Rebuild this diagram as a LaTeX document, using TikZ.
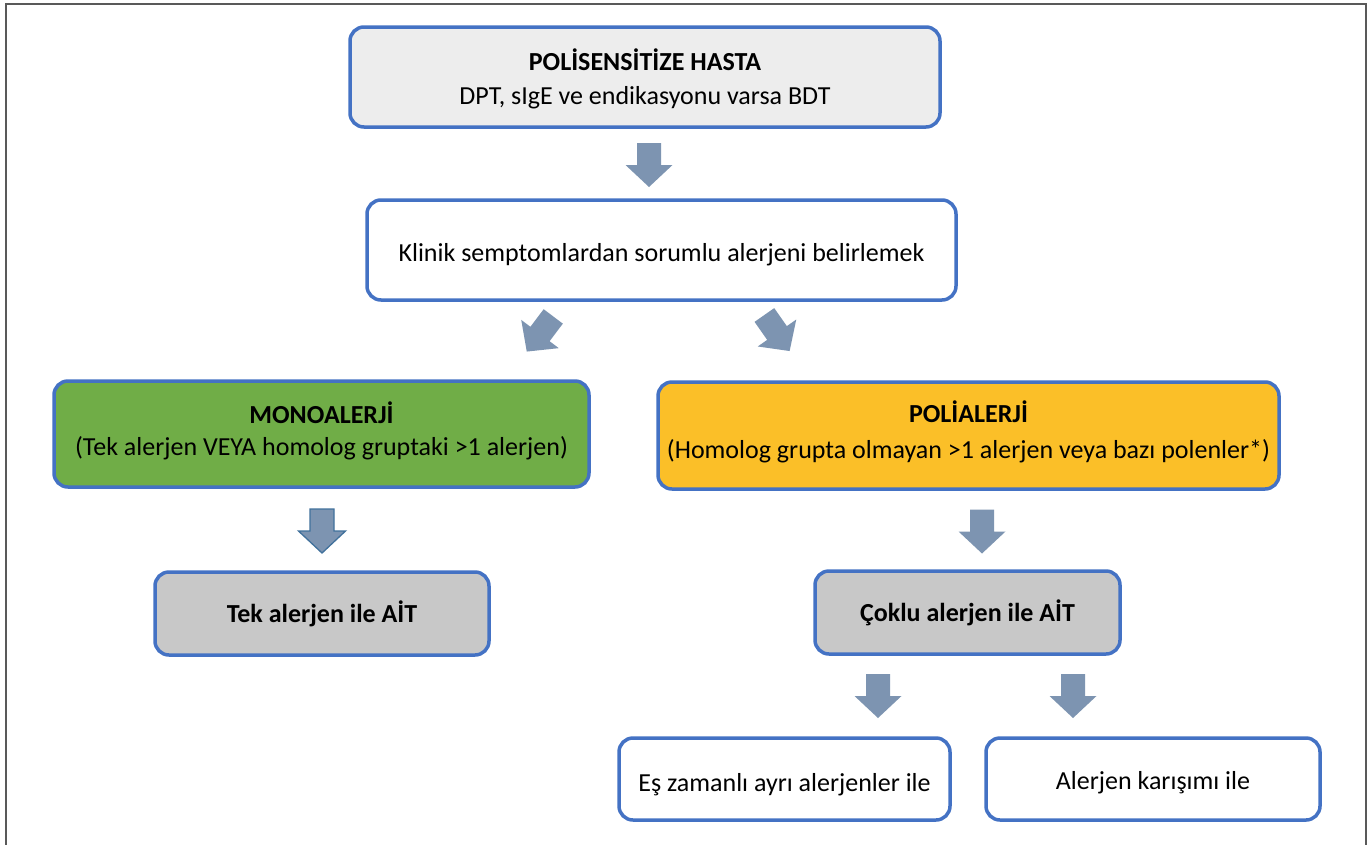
\documentclass[tikz,border=0pt]{standalone}
\usepackage{fontspec}
\setmainfont{Carlito}
\definecolor{boxblue}{HTML}{4472C4}
\definecolor{topfill}{HTML}{EDEDED}
\definecolor{aitfill}{HTML}{C8C8C8}
\definecolor{monofill}{HTML}{70AD47}
\definecolor{polifill}{HTML}{FBBF28}
\definecolor{arrowfill}{HTML}{7D94B1}
\definecolor{arrowline}{HTML}{41719C}
\definecolor{framegray}{HTML}{595959}

% lower a line of text without changing the size of its box
\newcommand{\lowerby}[2]{\raisebox{-#1}[\height][\depth]{#2}}

\tikzset{
  box/.style={draw=boxblue, line width=3.5pt, rounded corners=14pt,
    align=center, inner sep=0pt, text=black,
    font=\fontsize{26}{35}\selectfont},
  % block arrow pointing down, centred on its own middle
  blockarrow/.pic={
    \path[pic actions]
      (-12,-22) -- (12,-22) -- (12,0) -- (23.5,0) -- (0,22) -- (-23.5,0) -- (-12,0) -- cycle;
  },
  flow/.style={fill=arrowfill},
  flowedged/.style={fill=arrowfill, draw=arrowline, line width=1.3pt, line join=miter},
}

\begin{document}
\begin{tikzpicture}[x=1pt,y=-1pt]
\useasboundingbox (0,0) rectangle (1370,844);
\fill[white] (0,0) rectangle (1370,844);

% page frame
\draw[framegray, line width=1.6pt] (6,850) -- (6,4) -- (1366,4) -- (1366,850);

% boxes
\node[box, fill=topfill, minimum width=590pt, minimum height=100pt] (hasta) at (645,77)
  {\lowerby{2pt}{\textbf{POLİSENSİTİZE HASTA}}\\\lowerby{1pt}{DPT, sIgE ve endikasyonu varsa BDT}};
\node[box, fill=white, minimum width=589pt, minimum height=100pt] (klinik) at (661.5,250)
  {\lowerby{5pt}{Klinik semptomlardan sorumlu alerjeni belirlemek}};
\node[box, fill=monofill, minimum width=535pt, minimum height=106pt] (mono) at (321.5,434)
  {\lowerby{-2pt}{\textbf{MONOALERJİ}}\\\lowerby{-5pt}{(Tek alerjen VEYA homolog gruptaki >1 alerjen)}};
\node[box, fill=polifill, minimum width=621pt, minimum height=107pt] (poli) at (968.5,435.5)
  {\lowerby{-4pt}{\textbf{POLİALERJİ}}\\\lowerby{-3pt}{(Homolog grupta olmayan >1 alerjen veya bazı polenler*)}};
\node[box, fill=aitfill, minimum width=334pt, minimum height=83pt] (tek) at (322,613.5)
  {\textbf{Tek alerjen ile AİT}};
\node[box, fill=aitfill, minimum width=305pt, minimum height=83pt] (coklu) at (967.5,612.5)
  {\textbf{Çoklu alerjen ile AİT}};
\node[box, fill=white, minimum width=331pt, minimum height=82pt] (esz) at (784.5,779)
  {\lowerby{6pt}{Eş zamanlı ayrı alerjenler ile}};
\node[box, fill=white, minimum width=334pt, minimum height=82pt] (karisim) at (1153,779)
  {\lowerby{4pt}{Alerjen karışımı ile}};

% block arrows between the boxes
\pic[flow] at (649,165) {blockarrow};
\pic[flow, rotate=-37] at (540,334) {blockarrow};
\pic[flow, rotate=35] at (777,333) {blockarrow};
\pic[flowedged] at (322,531) {blockarrow};
\pic[flow] at (982,531.5) {blockarrow};
\pic[flow] at (878,696) {blockarrow};
\pic[flow] at (1073,696) {blockarrow};
\end{tikzpicture}
\end{document}
